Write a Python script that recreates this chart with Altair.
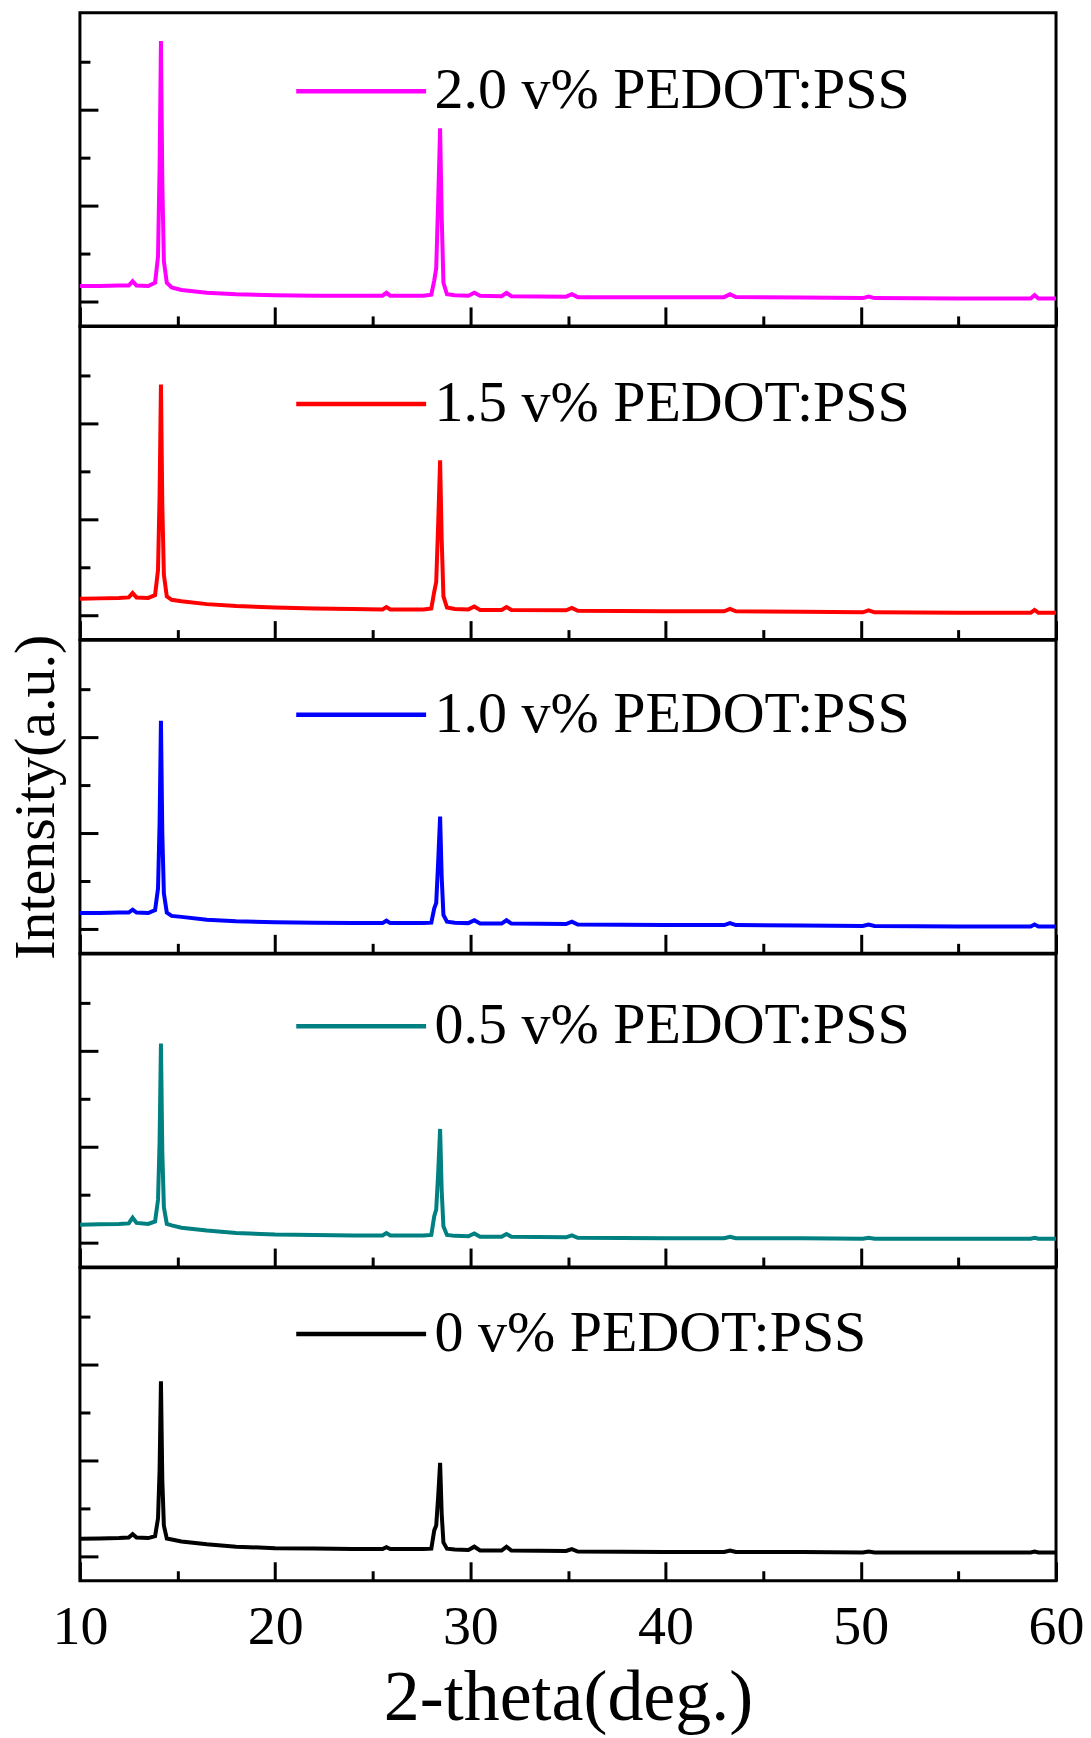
import altair as alt
import pandas as pd

# ---------------- data ----------------
theta = [10, 11, 12, 12.5, 12.7, 12.9, 13.5, 13.85, 14.0, 14.08,
         14.15, 14.22, 14.3, 14.45, 14.7, 15.2, 16.5, 18, 20, 22,
         24, 25.5, 25.7, 25.9, 27.6, 28.0, 28.15, 28.25, 28.35, 28.45,
         28.53, 28.62, 28.8, 29.2, 29.9, 30.2, 30.5, 31.6, 31.85, 32.1,
         34.9, 35.2, 35.5, 40, 43.0, 43.3, 43.6, 47, 50.1, 50.4,
         50.7, 55, 58.7, 58.9, 59.1, 60]

i_20 = [0.83, 0.83, 0.84, 0.84, 0.93, 0.84, 0.83, 0.90, 1.45, 3.3,
        5.94, 3.0, 1.35, 0.90, 0.80, 0.75, 0.69, 0.66, 0.64, 0.63,
        0.63, 0.63, 0.69, 0.63, 0.63, 0.65, 0.95, 1.2, 2.6, 4.12,
        2.3, 0.90, 0.66, 0.64, 0.63, 0.69, 0.63, 0.62, 0.69, 0.62,
        0.61, 0.66, 0.60, 0.60, 0.60, 0.66, 0.60, 0.59, 0.58, 0.61,
        0.58, 0.57, 0.57, 0.64, 0.57, 0.57]

i_15 = [0.85, 0.86, 0.87, 0.88, 0.97, 0.88, 0.87, 0.93, 1.45, 3.0,
        5.32, 2.8, 1.35, 0.90, 0.83, 0.80, 0.74, 0.70, 0.67, 0.65,
        0.64, 0.63, 0.68, 0.63, 0.63, 0.65, 1.0, 1.2, 2.4, 3.74,
        2.1, 0.90, 0.67, 0.64, 0.63, 0.69, 0.62, 0.62, 0.68, 0.62,
        0.61, 0.66, 0.60, 0.59, 0.59, 0.64, 0.59, 0.58, 0.57, 0.61,
        0.57, 0.56, 0.56, 0.62, 0.56, 0.56]

i_10 = [0.84, 0.84, 0.85, 0.85, 0.91, 0.85, 0.84, 0.90, 1.35, 2.7,
        4.85, 2.5, 1.25, 0.85, 0.78, 0.76, 0.70, 0.67, 0.65, 0.64,
        0.63, 0.63, 0.68, 0.63, 0.63, 0.64, 0.94, 1.05, 1.9, 2.85,
        1.6, 0.80, 0.66, 0.64, 0.63, 0.69, 0.62, 0.62, 0.69, 0.62,
        0.61, 0.66, 0.60, 0.59, 0.59, 0.63, 0.59, 0.58, 0.57, 0.60,
        0.57, 0.56, 0.56, 0.60, 0.56, 0.56]

i_05 = [0.88, 0.89, 0.90, 0.91, 1.03, 0.92, 0.90, 0.95, 1.4, 2.6,
        4.66, 2.4, 1.25, 0.90, 0.87, 0.82, 0.76, 0.71, 0.68, 0.67,
        0.66, 0.66, 0.71, 0.66, 0.66, 0.67, 1.06, 1.2, 1.95, 2.88,
        1.6, 0.85, 0.67, 0.65, 0.64, 0.70, 0.63, 0.63, 0.69, 0.63,
        0.62, 0.66, 0.61, 0.60, 0.60, 0.63, 0.60, 0.60, 0.59, 0.61,
        0.59, 0.59, 0.59, 0.61, 0.59, 0.59]

i_00 = [0.875, 0.88, 0.89, 0.90, 0.97, 0.90, 0.89, 0.93, 1.3, 2.3,
        4.16, 2.1, 1.15, 0.88, 0.86, 0.82, 0.76, 0.71, 0.68, 0.67,
        0.66, 0.66, 0.70, 0.66, 0.66, 0.67, 1.05, 1.15, 1.75, 2.46,
        1.4, 0.80, 0.67, 0.65, 0.64, 0.71, 0.63, 0.63, 0.71, 0.63,
        0.62, 0.66, 0.61, 0.60, 0.60, 0.63, 0.60, 0.60, 0.59, 0.61,
        0.59, 0.59, 0.59, 0.61, 0.59, 0.59]

labels = ["2.0 v% PEDOT:PSS", "1.5 v% PEDOT:PSS", "1.0 v% PEDOT:PSS",
          "0.5 v% PEDOT:PSS", "0 v% PEDOT:PSS"]
series = [i_20, i_15, i_10, i_05, i_00]
colors = ["#ff00ff", "#ff0000", "#0000ff", "#008080", "#000000"]

x_major = [10, 20, 30, 40, 50, 60]
x_minor = [15, 25, 35, 45, 55]
y_major = [0.5, 2.5, 4.5]
y_minor = [1.5, 3.5, 5.5]

# ---------------- layout / style ----------------
W, H = 977, 313.4
FONT = "Liberation Serif"
legend_y = [11, 10, 7, 5, -1]

x_scale = alt.Scale(domain=[10, 60], nice=False, zero=False)
y_scale = alt.Scale(domain=[0, 6.53], nice=False, zero=False)


def tick_axis(orient, offset, values, size):
    return alt.Axis(orient=orient, offset=offset, values=values, tickSize=size,
                    tickWidth=3, tickColor="black", labels=False, domain=False,
                    grid=False, title=None)


def panel(i):
    df = pd.DataFrame({"theta": theta, "intensity": series[i], "sample": labels[i]})
    base = alt.Chart(df)
    line = base.mark_line(strokeWidth=4, clip=True).encode(
        x=alt.X("theta:Q", scale=x_scale, axis=tick_axis("top", -H, x_major, 19)),
        y=alt.Y("intensity:Q", scale=y_scale, axis=tick_axis("right", -W, y_major, 18)),
        color=alt.Color("sample:N",
                        scale=alt.Scale(domain=[labels[i]], range=[colors[i]]),
                        legend=alt.Legend(orient="none", legendX=214, legendY=legend_y[i],
                                          title=None, symbolType="stroke",
                                          symbolSize=16900, symbolStrokeWidth=4.5,
                                          labelFont=FONT, labelFontSize=58,
                                          labelColor="black", labelOffset=6,
                                          padding=0, labelLimit=1000)),
    )
    minor = base.mark_line(opacity=0).encode(
        x=alt.X("theta:Q", scale=x_scale, axis=tick_axis("top", -H, x_minor, 10)),
        y=alt.Y("intensity:Q", scale=y_scale, axis=tick_axis("right", -W, y_minor, 10)),
    )
    layers = [line, minor]
    if i == 2:
        layers.append(base.mark_line(opacity=0).encode(
            x=alt.X("theta:Q", scale=x_scale, axis=None),
            y=alt.Y("intensity:Q", scale=y_scale,
                    axis=alt.Axis(orient="left", ticks=False, labels=False, domain=False,
                                  grid=False, title="Intensity(a.u.)", titleFont=FONT,
                                  titleFontSize=58, titleFontWeight="normal",
                                  titleColor="black", titlePadding=14)),
        ))
    if i == 4:
        layers.append(base.mark_line(opacity=0).encode(
            x=alt.X("theta:Q", scale=x_scale,
                    axis=alt.Axis(orient="bottom", values=x_major, ticks=False, tickSize=0,
                                  domain=False, grid=False, labelFont=FONT,
                                  labelFontSize=56, labelColor="black", labelPadding=19,
                                  labelFlush=False, labelOverlap=False,
                                  title="2-theta(deg.)", titleFont=FONT,
                                  titleFontSize=72, titleFontWeight="normal",
                                  titleColor="black", titlePadding=8)),
            y=alt.Y("intensity:Q", scale=y_scale, axis=None),
        ))
    return alt.layer(*layers).resolve_axis(x="independent", y="independent").properties(
        width=W, height=H)


chart = alt.vconcat(*[panel(i) for i in range(5)], spacing=0, bounds="flush").resolve_scale(
    color="independent"
).properties(
    padding={"left": 6, "top": 10, "right": 5, "bottom": 5},
    background="white",
).configure_view(stroke="black", strokeWidth=3)

chart.save("out.html", embed_options={"renderer": "svg", "actions": False})
